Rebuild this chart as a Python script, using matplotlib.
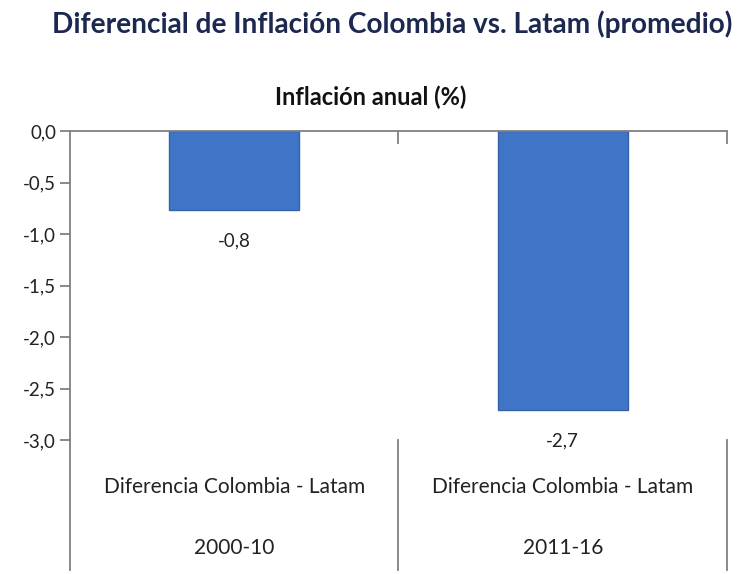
import matplotlib.pyplot as plt
from matplotlib.ticker import FixedLocator, FuncFormatter

# Datos
periodos = ['2000-10', '2011-16']
serie = ['Diferencia Colombia - Latam', 'Diferencia Colombia - Latam']
diferencial = [-0.77, -2.71]
etiquetas = ['-0,8', '-2,7']
yticks = [0.0, -0.5, -1.0, -1.5, -2.0, -2.5, -3.0]

plt.rcParams['font.family'] = ['Lato', 'DejaVu Sans']

W, H = 747, 574
fig = plt.figure(figsize=(W / 100, H / 100), dpi=100)

# área de gráfico en pixeles
x0, x1 = 70, 727
ytop, ybot = 131, 440
ax = fig.add_axes([x0 / W, 1 - ybot / H, (x1 - x0) / W, (ybot - ytop) / H])

gris = '#808080'
x = list(range(len(periodos)))
ax.bar(x, diferencial, width=0.396, color='#3F74C6', edgecolor='#3461AA', linewidth=1, zorder=2)

ax.set_xlim(-0.5, 1.5)
ax.set_ylim(-3.0, 0.0)

for s in ['right', 'bottom']:
    ax.spines[s].set_visible(False)
ax.spines['top'].set_color(gris)
ax.spines['left'].set_color(gris)
ax.spines['top'].set_linewidth(1.3)
ax.spines['left'].set_linewidth(1.3)

ax.yaxis.set_major_locator(FixedLocator(yticks))
ax.yaxis.set_major_formatter(FuncFormatter(lambda v, p: f'{v:.1f}'.replace('.', ',')))
ax.tick_params(axis='y', length=7, width=1.3, color=gris, labelsize=13.5, pad=3, labelcolor='#222222')

# ticks de separación en el eje superior
ax.xaxis.tick_top()
ax.xaxis.set_major_locator(FixedLocator([0.5, 1.5]))
ax.tick_params(axis='x', direction='in', length=9, width=1.3, color=gris, labeltop=False, labelbottom=False)

# etiquetas de valor
for xi, v, t in zip(x, diferencial, etiquetas):
    ax.annotate(t, (xi, v), xytext=(0, -22), textcoords='offset points',
                ha='center', va='center', fontsize=13.5, color='#222222')

# eje de categorías de dos niveles
tr = ax.get_xaxis_transform()
hpx = ybot - ytop
fondo = -(570 - ybot) / hpx
for xb in [-0.5, 0.5, 1.5]:
    ax.plot([xb, xb], [0, fondo], color=gris, lw=1.3, transform=tr, clip_on=False)
for xi, s, p in zip(x, serie, periodos):
    ax.text(xi, -(487 - ybot) / hpx, s, transform=tr, ha='center', va='center',
            fontsize=15, color='#222222')
    ax.text(xi, -(548 - ybot) / hpx, p, transform=tr, ha='center', va='center',
            fontsize=15, color='#222222')

fig.text(392 / W, 1 - 24 / H, 'Diferencial de Inflación Colombia vs. Latam (promedio)',
         ha='center', va='center', fontsize=20.2, fontweight='bold', color='#1C2850')
fig.text(371 / W, 1 - 97 / H, 'Inflación anual (%)', ha='center', va='center',
         fontsize=17, fontweight='bold', color='#111111')

fig.savefig('out.png', dpi=100)
